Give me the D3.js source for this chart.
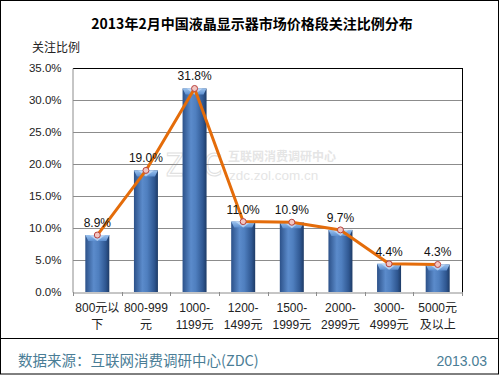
<!DOCTYPE html>
<html><head><meta charset="utf-8">
<script src="https://cdn.jsdelivr.net/npm/d3@7"></script>
<style>body{margin:0;background:#fff}svg{display:block}</style>
</head><body>
<script>
const title = "2013年2月中国液晶显示器市场价格段关注比例分布";
const yTitle = "关注比例";
const categories = ["800元以|下","800-999|元","1000-|1199元","1200-|1499元","1500-|1999元","2000-|2999元","3000-|4999元","5000元|及以上"];
const values = [8.9, 19.0, 31.8, 11.0, 10.9, 9.7, 4.4, 4.3];
const yTicks = [0, 5, 10, 15, 20, 25, 30, 35];
const source = "数据来源：互联网消费调研中心(ZDC)";
const dateLabel = "2013.03";

const W = 500, H = 375;
const m = {left: 73, right: 38, top: 68, bottom: 83};
const svg = d3.select("body").append("svg").attr("width", W).attr("height", H);
const defs = svg.append("defs");
const g1 = defs.append("linearGradient").attr("id","barG").attr("x1","0").attr("x2","1").attr("y1","0").attr("y2","0");
[["0%","#2c5189"],["35%","#5b8bcb"],["55%","#4f7fbf"],["85%","#2f5791"],["100%","#1e3b66"]].forEach(s=>g1.append("stop").attr("offset",s[0]).attr("stop-color",s[1]));
const g2 = defs.append("linearGradient").attr("id","capG").attr("x1","0").attr("x2","0").attr("y1","0").attr("y2","1");
[["0%","#9cc3ef"],["100%","#5d8fd0"]].forEach(s=>g2.append("stop").attr("offset",s[0]).attr("stop-color",s[1]));

// outer frame
svg.append("rect").attr("x",0.5).attr("y",0.5).attr("width",W-2).attr("height",H-1.5).attr("fill","none").attr("stroke","#000");
svg.append("line").attr("x1",0).attr("x2",W-1).attr("y1",338.5).attr("y2",338.5).attr("stroke","#000");

const x = d3.scaleBand().domain(categories).range([m.left, W - m.right]);
const y = d3.scaleLinear().domain([0, 35]).range([H - m.bottom, m.top]);

// title
svg.append("text").attr("x", 252).attr("y", 29).attr("text-anchor","middle")
  .attr("font-family","'Noto Sans CJK SC', sans-serif").attr("font-weight","bold").attr("font-size",14).attr("fill","#000").text(title);
svg.append("text").attr("x", 32).attr("y", 52).attr("font-family","'Noto Sans CJK SC', sans-serif").attr("font-size",12).attr("fill","#222").text(yTitle);

// watermark
const wm = svg.append("g").attr("opacity",0.55);
wm.append("text").attr("x",166).attr("y",176).attr("font-family","'DejaVu Sans', sans-serif").attr("font-size",32)
  .attr("textLength",56).attr("lengthAdjust","spacingAndGlyphs")
  .attr("fill","none").attr("stroke","#c8c8c8").attr("stroke-width",1.2).text("ZDC");
wm.append("text").attr("x",228).attr("y",161).attr("font-family","'Noto Sans CJK SC', sans-serif").attr("font-weight","bold").attr("font-size",12).attr("fill","#d0d0d0").text("互联网消费调研中心");
wm.append("text").attr("x",229).attr("y",180).attr("font-family","'Liberation Sans', sans-serif").attr("font-size",13.5).attr("fill","#d0d0d0").text("zdc.zol.com.cn");

// gridlines
svg.append("g").selectAll("line").data(yTicks.slice(1)).join("line")
  .attr("x1", m.left).attr("x2", W - m.right).attr("y1", d => Math.round(y(d))+0.5).attr("y2", d => Math.round(y(d))+0.5)
  .attr("stroke","#8c8c8c");
// plot border top/right
svg.append("line").attr("x1",m.left).attr("x2",W-m.right+0.5).attr("y1",Math.round(y(35))+0.5).attr("y2",Math.round(y(35))+0.5).attr("stroke","#000");
svg.append("line").attr("x1",W-m.right+0.5).attr("x2",W-m.right+0.5).attr("y1",y(35)).attr("y2",y(0)).attr("stroke","#000");

// y axis
const ya = svg.append("g").attr("transform",`translate(${m.left-0.5},0)`)
  .call(d3.axisLeft(y).tickValues(yTicks).tickSize(0).tickPadding(11).tickFormat(d => d.toFixed(1)+"%"));
ya.select(".domain").attr("stroke","#8c8c8c");
ya.selectAll("text").attr("font-family","'Liberation Sans', sans-serif").attr("font-size",11.5).attr("fill","#222");

// x axis
const xa = svg.append("g").attr("transform",`translate(0,${Math.round(y(0))+0.5})`)
  .call(d3.axisBottom(x).tickSize(0).tickFormat(""));
xa.select(".domain").attr("stroke","#8c8c8c");
xa.selectAll(".tick").remove();
svg.append("g").selectAll("line").data(d3.range(categories.length+1)).join("line")
  .attr("x1", i => Math.round(m.left + i*x.step())+0.5).attr("x2", i => Math.round(m.left + i*x.step())+0.5)
  .attr("y1", y(0)).attr("y2", y(0)+4).attr("stroke","#8c8c8c");
const xl = svg.append("g").selectAll("text").data(categories).join("text")
  .attr("x", d => x(d) + x.bandwidth()/2).attr("y", 312)
  .attr("text-anchor","middle").attr("font-family","'Liberation Sans','Noto Sans CJK SC', sans-serif").attr("font-size",12).attr("fill","#222");
xl.each(function(d){
  const parts = d.split("|");
  const t = d3.select(this);
  parts.forEach((p,i)=> t.append("tspan").attr("x", x(d)+x.bandwidth()/2).attr("dy", i===0?0:17).text(p));
});

// bars
const bw = 24;
const bars = svg.append("g").selectAll("g").data(values).join("g");
bars.append("rect").attr("x",(d,i)=>x(categories[i])+x.bandwidth()/2-bw/2).attr("y",d=>y(d))
  .attr("width",bw).attr("height",d=>y(0)-y(d)).attr("fill","url(#barG)");
bars.append("path").attr("d",(d,i)=>{
  const cx = x(categories[i])+x.bandwidth()/2, t = y(d);
  return `M${cx-bw/2},${t} L${cx+bw/2},${t} L${cx+bw/2-3},${t+6} L${cx-bw/2+3},${t+6} Z`;
}).attr("fill","url(#capG)");
bars.append("path").attr("d",(d,i)=>{
  const cx = x(categories[i])+x.bandwidth()/2, t = y(d);
  return `M${cx-8},${t} L${cx+8},${t} L${cx},${t+6} Z`;
}).attr("fill","#c4dcf6").attr("opacity",0.8);

// line
const line = d3.line().x((d,i)=>x(categories[i])+x.bandwidth()/2).y(d=>y(d));
svg.append("path").datum(values).attr("d",line).attr("fill","none").attr("stroke","#e46c0a").attr("stroke-width",3).attr("stroke-linejoin","round");
svg.append("g").selectAll("circle").data(values).join("circle")
  .attr("cx",(d,i)=>x(categories[i])+x.bandwidth()/2).attr("cy",d=>y(d)).attr("r",3)
  .attr("fill","#f2c6c2").attr("stroke","#b8413c").attr("stroke-width",1);
svg.append("g").selectAll("text").data(values).join("text")
  .attr("x",(d,i)=>x(categories[i])+x.bandwidth()/2).attr("y",d=>y(d)-8)
  .attr("text-anchor","middle").attr("font-family","'Liberation Sans', sans-serif").attr("font-size",12).attr("fill","#111")
  .text(d=>d.toFixed(1)+"%");

// footer
svg.append("text").attr("x",18).attr("y",366).attr("font-family","'Noto Sans CJK SC', sans-serif").attr("font-size",14.5).attr("fill","#4a7d96").text(source);
svg.append("text").attr("x",487).attr("y",366).attr("text-anchor","end").attr("font-family","'Liberation Sans', sans-serif").attr("font-size",14).attr("fill","#4a7d96").text(dateLabel);
</script>
</body></html>
